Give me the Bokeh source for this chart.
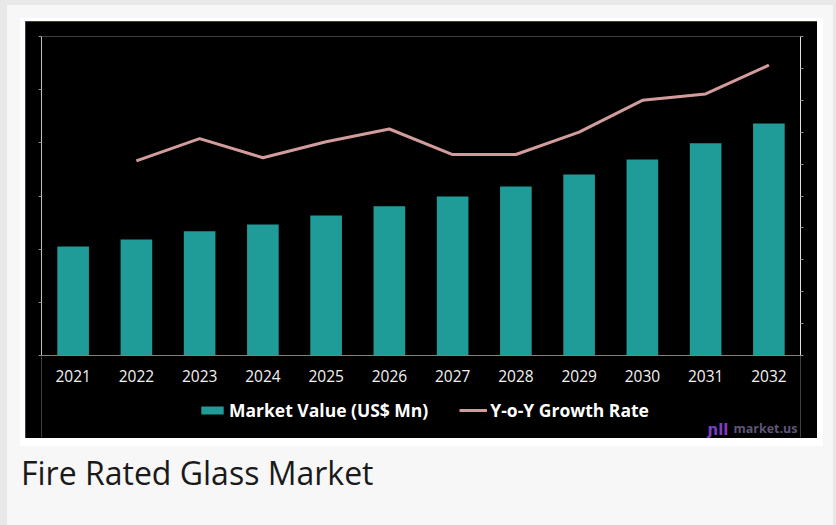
from bokeh.plotting import figure
from bokeh.models import (FactorRange, Range1d, LinearAxis, FixedTicker, Legend,
                          LegendItem, Label, Div, Span, CustomJSTickFormatter)
from bokeh.core.properties import value
from bokeh.layouts import column
from bokeh.embed import file_html
from bokeh.resources import INLINE

years = ["2021", "2022", "2023", "2024", "2025", "2026",
         "2027", "2028", "2029", "2030", "2031", "2032"]
market_value = [4100, 4360, 4670, 4930, 5270, 5610, 5980, 6360, 6810, 7370, 7980, 8730]
growth_years = ["2022", "2023", "2024", "2025", "2026", "2027",
                "2028", "2029", "2030", "2031", "2032"]
growth_rate = [6.1, 6.8, 6.2, 6.7, 7.1, 6.3, 6.3, 7.0, 8.0, 8.2, 9.1]
left_ticks = [0, 2000, 4000, 6000, 8000, 10000, 12000]
right_ticks = [0, 1, 2, 3, 4, 5, 6, 7, 8, 9, 10]

BAR = "#1f9c97"
LINE = "#d39c9c"

VMAX = 12000
GMAX = 10
EXT = 83 / 319  # extra space under the zero line (fraction of axis height)

p = figure(width=792, height=417, x_range=FactorRange(factors=years),
           y_range=Range1d(-VMAX * EXT, VMAX), output_backend="svg",
           toolbar_location=None, x_axis_location=None,
           background_fill_color="black", border_fill_color="black",
           outline_line_color=None, min_border_left=16, min_border_right=17,
           min_border_top=15, min_border_bottom=0,
           styles={"outline": "1px solid #5b4a8e", "outline-offset": "-1px"})
p.extra_y_ranges = {"growth": Range1d(-GMAX * EXT, GMAX)}
p.xgrid.grid_line_color = None
p.ygrid.grid_line_color = None

bars = p.vbar(x=years, top=market_value, width=0.5, color=BAR, line_color=None)
ln = p.line(x=growth_years, y=growth_rate, y_range_name="growth",
            line_color=LINE, line_width=3)

p.add_layout(Span(location=0, dimension="width", line_color="#808080", line_width=1))

p.text(x=years, y=-VMAX * 20.5 / 319, text=years, text_align="center",
       text_baseline="middle", text_font=value("Open Sans"),
       text_font_size="15.5px", text_color="#f2f2f2")

ya = p.yaxis[0]
ya.ticker = FixedTicker(ticks=left_ticks)
ya.formatter = CustomJSTickFormatter(code="return ''")
ya.bounds = (0, VMAX)
ya.axis_line_color = "#bfbfbf"
ya.major_tick_line_color = "#8c8c8c"
ya.major_tick_out = 3
ya.major_tick_in = 0
ya.minor_tick_line_color = None

ra = LinearAxis(y_range_name="growth", ticker=FixedTicker(ticks=right_ticks),
                formatter=CustomJSTickFormatter(code="return ''"), bounds=(0, GMAX))
ra.axis_line_color = "#e0e0e0"
ra.major_tick_line_color = "#8c8c8c"
ra.major_tick_out = 3
ra.major_tick_in = 0
ra.minor_tick_line_color = None
p.add_layout(ra, "right")

legend = Legend(items=[LegendItem(label="Market Value (US$ Mn)", renderers=[bars]),
                       LegendItem(label="Y-o-Y Growth Rate", renderers=[ln])],
                orientation="horizontal", location=(157, 16),
                background_fill_alpha=0, border_line_color=None,
                label_text_color="white", label_text_font="Open Sans",
                label_text_font_style="bold", label_text_font_size="17.5px",
                glyph_width=28, glyph_height=10, label_standoff=3, spacing=31,
                padding=5, margin=0)
p.add_layout(legend)

wm = Label(x=10.94, y=-VMAX * 73 / 319, text="market.us",
           text_color="#5f5577", text_font="Open Sans", text_font_style="bold",
           text_font_size="12.5px", text_baseline="alphabetic")
p.add_layout(wm)
logo = Label(x=10.53, y=-VMAX * 74 / 319, text="ɲll",
             text_color="#7a3fc2", text_font="DejaVu Sans", text_font_style="bold",
             text_font_size="15px", text_baseline="alphabetic")
p.add_layout(logo)

p.margin = (3, 6, 8, 5)
card = column(p, styles={"background-color": "white"}, margin=(13, 0, 0, 13))
title = Div(text="Fire Rated Glass Market", margin=(4, 0, 0, 14),
            styles={"font-family": "Open Sans", "font-size": "32px", "color": "#1a1a1a"})
content = column(card, title, width=826, height=520, margin=(5, 3, 0, 7),
                 styles={"background-color": "#f7f7f7"})
page = column(content, width=836, height=525, styles={"background-color": "#e8e8e8"})

open("out.html", "w").write(file_html(page, INLINE))
